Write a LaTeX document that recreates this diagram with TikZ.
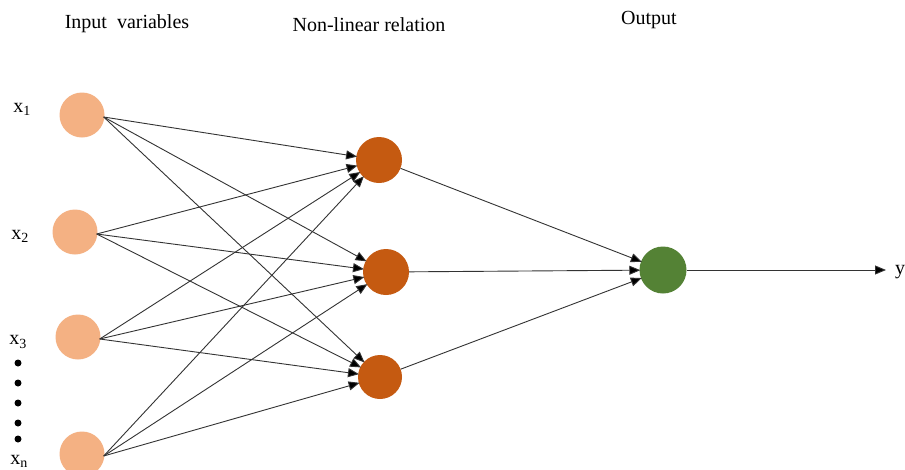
\documentclass[tikz,border=0pt]{standalone}
\usepackage{fontspec}
\setmainfont{Liberation Serif}
\usetikzlibrary{arrows.meta}
\definecolor{inc}{HTML}{F4B183}
\definecolor{hidc}{HTML}{C55A11}
\definecolor{outc}{HTML}{548235}
\definecolor{edgec}{HTML}{333333}
\begin{document}
\begin{tikzpicture}[x=1pt,y=-1pt,
  inneur/.style={circle,fill=inc,draw=none,minimum size=45pt,inner sep=0pt},
  hidneur/.style={circle,fill=hidc,draw=none,minimum size=46pt,inner sep=0pt},
  outneur/.style={circle,fill=outc,draw=none,minimum size=47pt,inner sep=0pt},
  conn/.style={draw=edgec,line width=0.9pt,-{Triangle[length=11pt,width=9pt,fill=black]},shorten >=-1pt},
  title/.style={font=\fontsize{20}{23}\selectfont,inner sep=0pt},
  lab/.style={font=\fontsize{20}{23}\selectfont,inner sep=0pt},
  vdot/.style={circle,fill=black,minimum size=7pt,inner sep=0pt}]
\useasboundingbox[fill=white] (0,0) rectangle (905,469);
% titles
\node[title] (t1) at (127,24) {Input\ \ variables};
\node[title] (t2) at (369,25) {Non-linear relation};
\node[title] (t3) at (649,20) {Output};
% input neurons
\node[inneur] (i1) at (82,115) {};
\node[inneur] (i2) at (75,232) {};
\node[inneur,minimum height=41pt] (i3) at (78,337) {};
\node[inneur] (i4) at (82,454) {};
% hidden neurons
\node[hidneur] (h1) at (379,160) {};
\node[hidneur] (h2) at (386,272) {};
\node[hidneur,minimum size=44pt] (h3) at (380,377) {};
% output neuron
\node[outneur] (o) at (663,270) {};
\coordinate (yend) at (886,270);
\node[lab,anchor=west] (ylab) at (895,272) {y};
% labels
\node[lab] (l1) at (22,109) {x\textsubscript{1}};
\node[lab] (l2) at (20,236) {x\textsubscript{2}};
\node[lab] (l3) at (18,342) {x\textsubscript{3}};
\node[lab] (ln) at (19,461) {x\textsubscript{n}};
\node[vdot] (d1) at (18,363) {};
\node[vdot] (d2) at (18,383) {};
\node[vdot] (d3) at (18,403) {};
\node[vdot] (d4) at (18,423) {};
\node[vdot] (d5) at (18,439) {};
% connections
\foreach \i in {i1,i2,i3,i4}{
  \foreach \h in {h1,h2,h3}{
    \draw[conn] ([xshift=-1pt,yshift=-2pt]\i.east) -- (\h);
  }
}
\foreach \h in {h1,h2,h3}{
  \draw[conn] (\h) -- (o);
}
\draw[conn,shorten >=0pt] (o) -- (yend);
\end{tikzpicture}
\end{document}
